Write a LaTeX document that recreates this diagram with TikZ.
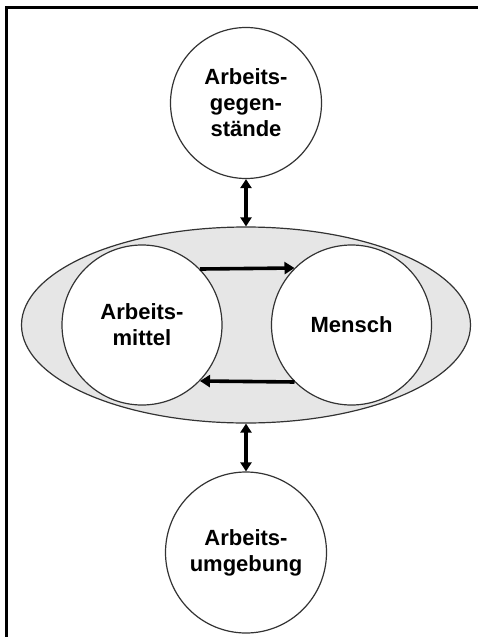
\documentclass[tikz,border=0pt]{standalone}
\usepackage{fontspec}
\setmainfont{Liberation Sans}
\usetikzlibrary{shapes.geometric,arrows.meta}
\definecolor{ringgray}{HTML}{333333}
\definecolor{fillgray}{HTML}{E6E6E6}
\tikzset{
  ring/.style={circle, draw=ringgray, line width=1.2pt, fill=white, inner sep=0pt,
    align=center, font=\fontsize{22}{26}\selectfont\bfseries},
  bigoval/.style={ellipse, draw=ringgray, line width=1.2pt, fill=fillgray, inner sep=0pt},
  flow/.style={line width=3.6pt, -{Triangle[length=10pt,width=12pt]}},
  both/.style={line width=3.6pt, {Triangle[length=9pt,width=11pt]}-{Triangle[length=9pt,width=11pt]}},
}
\begin{document}
\begin{tikzpicture}[x=1pt,y=-1pt]
\useasboundingbox (0,0) rectangle (478,637);
\draw[line width=3.5pt] (6.5,650) -- (6.5,7.5) -- (490,7.5);
\node[bigoval, minimum width=449pt, minimum height=196pt] (ov) at (246,325) {};
\node[ring, minimum size=151pt] (top) at (246,103) {Arbeits-\\gegen-\\stände};
\node[ring, minimum size=160pt] (lm) at (142,325) {Arbeits-\\mittel};
\node[ring, minimum size=160pt] (rm) at (351.5,325) {Mensch};
\node[ring, minimum size=161pt] (bot) at (246,552.5) {Arbeits-\\umgebung};
\draw[flow] (lm.44.4) -- (rm.135.6);
\draw[flow] (rm.-135.6) -- (lm.-44.4);
\draw[both] (top.south) -- (ov.north);
\draw[both] (ov.south) -- (bot.north);
\end{tikzpicture}
\end{document}
